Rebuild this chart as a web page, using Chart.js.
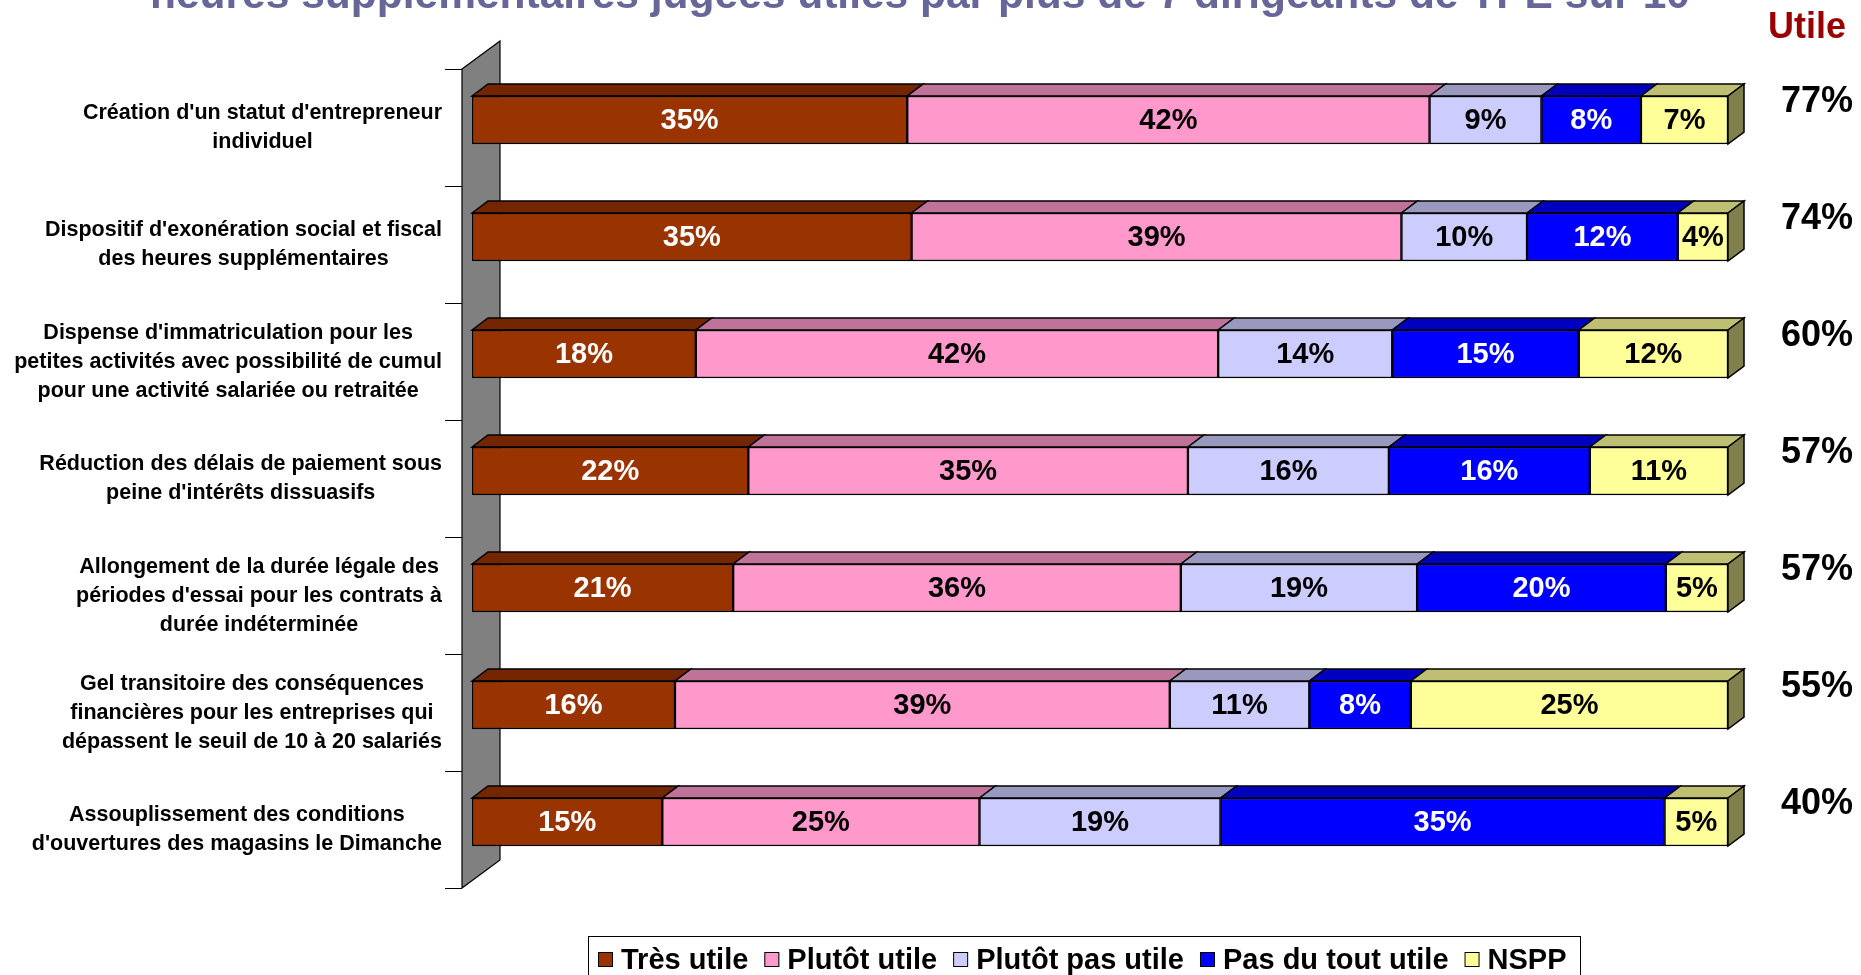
<!DOCTYPE html>
<html>
<head>
<meta charset="utf-8">
<script src="https://cdn.jsdelivr.net/npm/chart.js@4"></script>
<style>
  html, body { margin: 0; padding: 0; background: #fff; overflow: hidden; }
  #wrap { width: 1861px; height: 975px; position: relative; }
</style>
</head>
<body>
<div id="wrap"><canvas id="barChart"></canvas></div>
<script>
const categories = [
  ["Création d'un statut d'entrepreneur", "individuel"],
  ["Dispositif d'exonération social et fiscal", "des heures supplémentaires"],
  ["Dispense d'immatriculation pour les", "petites activités avec possibilité de cumul", "pour une activité salariée ou retraitée"],
  ["Réduction des délais de paiement sous", "peine d'intérêts dissuasifs"],
  ["Allongement de la durée légale des", "périodes d'essai pour les contrats à", "durée indéterminée"],
  ["Gel transitoire des conséquences", "financières pour les entreprises qui", "dépassent le seuil de 10 à 20 salariés"],
  ["Assouplissement des conditions", "d'ouvertures des magasins le Dimanche"]
];
const seriesNames = ['Très utile', 'Plutôt utile', 'Plutôt pas utile', 'Pas du tout utile', 'NSPP'];
const tresUtile      = [35, 35, 18, 22, 21, 16, 15];
const plutotUtile    = [42, 39, 42, 35, 36, 39, 25];
const plutotPasUtile = [ 9, 10, 14, 16, 19, 11, 19];
const pasDuToutUtile = [ 8, 12, 15, 16, 20,  8, 35];
const nspp           = [ 7,  4, 12, 11,  5, 25,  5];
const totalUtile     = [77, 74, 60, 57, 57, 55, 40];

const titleText = "heures supplémentaires jugées utiles par plus de 7 dirigeants de TPE sur 10";

const colors = ['#993300', '#FF99CC', '#CCCCFF', '#0000FF', '#FFFF99'];
const labelColors = ['#fff', '#000', '#000', '#fff', '#000'];
const FONT = 'Arial, "Liberation Sans", sans-serif';
const DX = 16, DY = 12;

const raw = [tresUtile, plutotUtile, plutotPasUtile, pasDuToutUtile, nspp];
// 100% stacked: each row scaled to its own total
const rowSum = categories.map((c, i) => raw.reduce((s, arr) => s + arr[i], 0));

function shade(hex, f) {
  const n = parseInt(hex.slice(1), 16);
  const r = Math.round(((n >> 16) & 255) * f), g = Math.round(((n >> 8) & 255) * f), b = Math.round((n & 255) * f);
  return 'rgb(' + r + ',' + g + ',' + b + ')';
}

const barData = {
  labels: categories,
  datasets: raw.map((arr, k) => ({
    label: seriesNames[k],
    data: arr.map((v, i) => v / rowSum[i] * 100),
    raw: arr,
    backgroundColor: colors[k],
    borderColor: '#000',
    borderWidth: 1.5,
    borderSkipped: false,
    barThickness: 48
  }))
};

const deco = {
  id: 'deco',
  beforeDatasetsDraw(chart) {
    const ctx = chart.ctx, y = chart.scales.y;
    const half = (y.getPixelForValue(1) - y.getPixelForValue(0)) / 2;
    const top = y.getPixelForValue(0) - half + 7.5;
    const bot = y.getPixelForValue(categories.length - 1) + half + 7.5;
    const fx = 462, bx = 500, wdy = 28;
    ctx.save();
    // grey wall
    ctx.beginPath();
    ctx.moveTo(fx, top); ctx.lineTo(bx, top - wdy); ctx.lineTo(bx, bot - wdy); ctx.lineTo(fx, bot); ctx.closePath();
    ctx.fillStyle = '#808080'; ctx.fill();
    ctx.strokeStyle = '#000'; ctx.lineWidth = 1.2; ctx.stroke();
    // tick marks
    ctx.beginPath();
    for (let k = 0; k <= categories.length; k++) {
      const ty = Math.round(top + k * half * 2) + 0.5;
      ctx.moveTo(445, ty); ctx.lineTo(fx, ty);
    }
    ctx.stroke();
    // top and side faces of bars
    const n = chart.data.datasets.length;
    chart.data.datasets.forEach((ds, k) => {
      chart.getDatasetMeta(k).data.forEach(el => {
        const p = el.getProps(['x', 'y', 'base', 'height'], true);
        const x0 = p.base, x1 = p.x, yt = p.y - p.height / 2, yb = p.y + p.height / 2;
        ctx.beginPath();
        ctx.moveTo(x0, yt); ctx.lineTo(x0 + DX, yt - DY); ctx.lineTo(x1 + DX, yt - DY); ctx.lineTo(x1, yt); ctx.closePath();
        ctx.fillStyle = shade(colors[k], 0.75); ctx.fill();
        ctx.lineWidth = 1.5; ctx.stroke();
        if (k === n - 1) {
          ctx.beginPath();
          ctx.moveTo(x1, yt); ctx.lineTo(x1 + DX, yt - DY); ctx.lineTo(x1 + DX, yb - DY); ctx.lineTo(x1, yb); ctx.closePath();
          ctx.fillStyle = shade(colors[k], 0.5); ctx.fill(); ctx.stroke();
        }
      });
    });
    ctx.restore();
  },
  afterDatasetsDraw(chart) {
    const ctx = chart.ctx, y = chart.scales.y;
    ctx.save();
    ctx.textAlign = 'center'; ctx.textBaseline = 'middle';
    // values inside bars
    ctx.font = 'bold 29px ' + FONT;
    chart.data.datasets.forEach((ds, k) => {
      chart.getDatasetMeta(k).data.forEach((el, i) => {
        const p = el.getProps(['x', 'y', 'base'], true);
        ctx.fillStyle = labelColors[k];
        ctx.fillText(ds.raw[i] + '%', (p.x + p.base) / 2, p.y + 1);
      });
    });
    // totals on the right
    ctx.font = 'bold 36px ' + FONT;
    ctx.fillStyle = '#000';
    totalUtile.forEach((v, i) => ctx.fillText(v + '%', 1817, y.getPixelForValue(i) - 18));
    ctx.fillStyle = '#990000';
    ctx.fillText('Utile', 1807, 28);
    // title (cut at top)
    ctx.fillStyle = '#666699';
    ctx.font = 'bold 42.5px ' + FONT;
    ctx.textBaseline = 'alphabetic';
    ctx.fillText(titleText, 920, 8);
    // category labels: lines centered in a right-aligned block
    ctx.font = 'bold 21.5px ' + FONT;
    ctx.fillStyle = '#000';
    ctx.textBaseline = 'middle';
    const right = 442, lh = 29;
    categories.forEach((lines, i) => {
      const w = Math.max(...lines.map(l => ctx.measureText(l).width));
      const cx = right - w / 2;
      const cy = y.getPixelForValue(i) + 8;
      lines.forEach((l, j) => ctx.fillText(l, cx, cy + (j - (lines.length - 1) / 2) * lh));
    });
    // legend
    ctx.font = 'bold 29px ' + FONT;
    ctx.strokeStyle = '#000'; ctx.lineWidth = 1;
    ctx.strokeRect(588.5, 936.5, 992, 60);
    let lx = 598;
    const ly = 960;
    seriesNames.forEach((s, k) => {
      ctx.fillStyle = colors[k];
      ctx.fillRect(lx, ly - 8, 15, 15);
      ctx.strokeRect(lx + 0.5, ly - 7.5, 14, 14);
      ctx.fillStyle = '#000';
      ctx.textAlign = 'left';
      ctx.fillText(s, lx + 23, ly + 1);
      lx += 23 + ctx.measureText(s).width + 16;
    });
    ctx.restore();
  }
};

const barConfig = {
  type: 'bar',
  data: barData,
  options: {
    indexAxis: 'y',
    responsive: true,
    maintainAspectRatio: false,
    animation: false,
    layout: { padding: { left: 472, right: 133, top: 61.5, bottom: 94.5 } },
    scales: {
      x: { stacked: true, min: 0, max: 100, display: false },
      y: { stacked: true, display: false }
    },
    plugins: { legend: { display: false }, tooltip: { enabled: false } }
  },
  plugins: [deco]
};

const barChart = new Chart(document.getElementById('barChart'), barConfig);
</script>
</body>
</html>
